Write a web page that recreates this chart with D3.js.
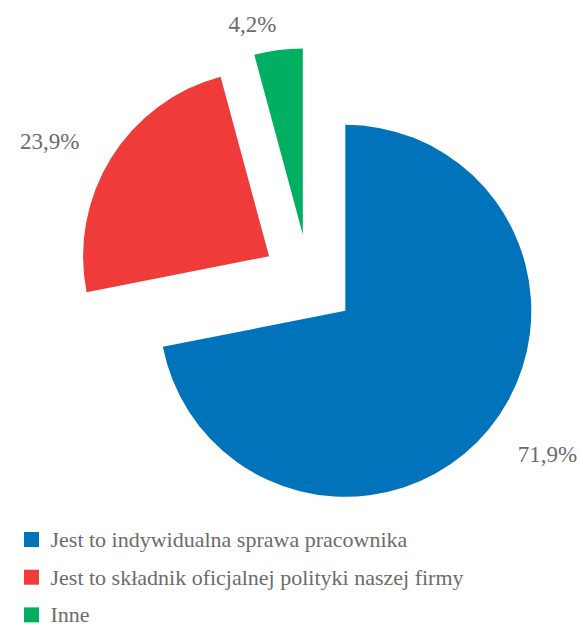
<!DOCTYPE html>
<html>
<head>
<meta charset="utf-8">
<script src="https://cdn.jsdelivr.net/npm/d3@7"></script>
</head>
<body style="margin:0">
<svg id="chart" width="579" height="626" font-family="Liberation Serif, serif"></svg>
<script>
// Survey answers and their shares (%)
const categories = [
  "Jest to indywidualna sprawa pracownika",
  "Jest to składnik oficjalnej polityki naszej firmy",
  "Inne"
];
const values = [71.9, 23.9, 4.2];
const labels = ["71,9%", "23,9%", "4,2%"];
const colors = ["#0173BA", "#EF3B3A", "#00AF61"];

const cx = 309, cy = 281;      // pie centre
const radius = 186;
const explode = 47;            // every slice pulled out from the centre
const labelDist = 247;         // label centre distance from slice apex
const labelShift = -18;        // sideways shift, counter-clockwise
const textColor = "#6b6b6b";

const svg = d3.select("#chart");

const pie = d3.pie().sort(null).value(d => d);
const arcs = pie(values);
const arc = d3.arc().innerRadius(0).outerRadius(radius);

const g = svg.append("g").attr("transform", `translate(${cx},${cy})`);

arcs.forEach((a, i) => {
  const mid = (a.startAngle + a.endAngle) / 2;
  const ux = Math.sin(mid), uy = -Math.cos(mid);
  const ox = ux * explode, oy = uy * explode;

  g.append("path")
    .attr("d", arc(a))
    .attr("fill", colors[i])
    .attr("transform", `translate(${ox},${oy})`);

  // label centre: outward along the slice bisector, nudged sideways
  let lx = ox + ux * labelDist + (-uy) * labelShift;
  let ly = oy + uy * labelDist + ux * labelShift;
  // keep labels inside the drawing area
  ly = Math.max(ly, 24 - cy);

  svg.append("text")
    .attr("x", cx + lx)
    .attr("y", cy + ly + 8)
    .attr("text-anchor", "middle")
    .attr("font-size", 23)
    .attr("fill", textColor)
    .text(labels[i]);
});

// Legend
const rowH = 37.7;
categories.forEach((c, i) => {
  svg.append("rect")
    .attr("x", 24).attr("y", 532 + i * rowH)
    .attr("width", 15).attr("height", 15)
    .attr("fill", colors[i]);
  svg.append("text")
    .attr("x", 50.5)
    .attr("y", 547 + i * rowH)
    .attr("font-size", 22)
    .attr("fill", textColor)
    .text(c);
});
</script>
</body>
</html>
